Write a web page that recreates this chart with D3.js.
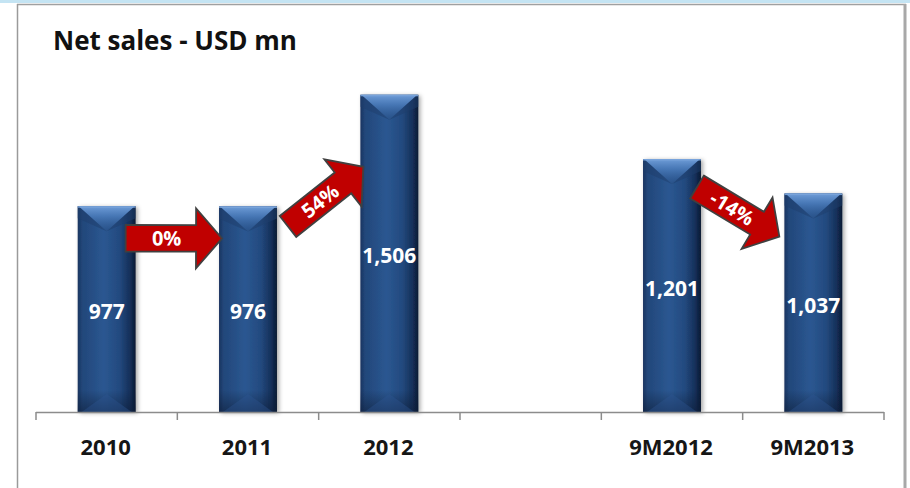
<!DOCTYPE html>
<html><head><meta charset="utf-8">
<script src="https://cdn.jsdelivr.net/npm/d3@7/dist/d3.min.js"></script>
<style>body{margin:0;background:#fff}svg{display:block}</style>
</head><body><svg id="c" width="910" height="488"></svg>
<script>
const categories = ["2010","2011","2012"," ","9M2012","9M2013"];
const values = [977, 976, 1506, null, 1201, 1037];
const arrowFrom = ["2010","2011","9M2012"];
const arrowTo = ["2011","2012","9M2013"];
const arrowLabels = ["0%","54%","-14%"];
const title = "Net sales - USD mn";

const svg = d3.select("#c");
const FONT = "'Open Sans', 'Noto Sans', sans-serif";
const valOf = {}; categories.forEach((c,i)=> valOf[c] = values[i]);

// frame
svg.append("rect").attr("x",0).attr("y",0).attr("width",910).attr("height",3).attr("fill","#c4e4f3");
svg.append("line").attr("x1",17).attr("x2",906).attr("y1",4.5).attr("y2",4.5).attr("stroke","#a0a0a0").attr("stroke-width",1.5);
svg.append("line").attr("x1",17.5).attr("x2",17.5).attr("y1",4).attr("y2",488).attr("stroke","#9a9a9a").attr("stroke-width",1.5);
svg.append("line").attr("x1",905).attr("x2",905).attr("y1",4).attr("y2",488).attr("stroke","#a8a8a8").attr("stroke-width",3);

const defs = svg.append("defs");
const g1 = defs.append("linearGradient").attr("id","barG").attr("x1","0").attr("x2","1").attr("y1","0").attr("y2","0");
[[0,"#1a3460"],[0.08,"#22477a"],[0.45,"#2b5791"],[0.72,"#234a7f"],[0.9,"#15305a"],[1,"#0b1a33"]]
  .forEach(([o,c])=>g1.append("stop").attr("offset",o).attr("stop-color",c));
const g2 = defs.append("linearGradient").attr("id","vG").attr("x1","0").attr("x2","0").attr("y1","0").attr("y2","1");
[[0,"#6f9dd8",1],[0.4,"#4d7fbf",0.85],[1,"#2f5e9b",0.4]]
  .forEach(([o,c,a])=>g2.append("stop").attr("offset",o).attr("stop-color",c).attr("stop-opacity",a));
const g3 = defs.append("linearGradient").attr("id","bG").attr("x1","0").attr("x2","0").attr("y1","0").attr("y2","1");
[[0,"#0d1c36",0],[1,"#0d1c36",0.55]]
  .forEach(([o,c,a])=>g3.append("stop").attr("offset",o).attr("stop-color",c).attr("stop-opacity",a));
const f = defs.append("filter").attr("id","sh").attr("x","-30%").attr("y","-10%").attr("width","160%").attr("height","120%");
f.append("feDropShadow").attr("dx",2).attr("dy",1).attr("stdDeviation",2).attr("flood-color","#000").attr("flood-opacity",0.35);

// scales
const x = d3.scaleBand().domain(categories).range([36,884]).paddingInner(0.59).paddingOuter(0.295);
const y = d3.scaleLinear().domain([0,1600]).range([412,75]);
const bw = x.bandwidth();
const step = x.step();

// title
svg.append("text").attr("x",53).attr("y",50).text(title)
  .attr("font-family",FONT).attr("font-weight",700).attr("font-size",26).attr("fill","#111");

// bars
const data = categories.map((c,i)=>({c, v: values[i]})).filter(d=>d.v!=null);
const bars = svg.append("g").selectAll("g").data(data).join("g");
bars.append("rect").attr("x",d=>x(d.c)).attr("y",d=>y(d.v)).attr("width",bw).attr("height",d=>y(0)-y(d.v))
  .attr("fill","url(#barG)").attr("filter","url(#sh)");
bars.append("path").attr("d",d=>{const x0=x(d.c),t=y(d.v);return `M${x0},${t+12}L${x0+bw/2},${t+25}L${x0+bw},${t+12}L${x0+bw},${t}L${x0},${t}Z`;})
  .attr("fill","#1d3d6c").attr("opacity",0.5);
bars.append("path").attr("d",d=>{const x0=x(d.c),t=y(d.v);return `M${x0+1},${t}L${x0+bw-1},${t}L${x0+bw/2},${t+25}Z`;})
  .attr("fill","url(#vG)");
bars.append("rect").attr("x",d=>x(d.c)).attr("y",d=>y(d.v)).attr("width",bw).attr("height",1.5).attr("fill","#7aa4da").attr("opacity",0.9);
bars.append("rect").attr("x",d=>x(d.c)).attr("y",d=>y(0)-22).attr("width",bw).attr("height",22).attr("fill","url(#bG)");
bars.append("path").attr("d",d=>{const x0=x(d.c),b=y(0);return `M${x0+4},${b}L${x0+bw-4},${b}L${x0+bw/2},${b-18}Z`;})
  .attr("fill","#2c5690").attr("opacity",0.4);
bars.append("text").attr("x",d=>x(d.c)+bw/2).attr("y",d=>(y(d.v)+y(0))/2+10)
  .attr("text-anchor","middle").attr("font-family",FONT).attr("font-weight",700).attr("font-size",21)
  .attr("fill","#fff").text(d=>d3.format(",")(d.v));

// axis
const ax = svg.append("g");
ax.append("line").attr("x1",x.range()[0]).attr("x2",x.range()[1]).attr("y1",412.5).attr("y2",412.5).attr("stroke","#8c8c8c").attr("stroke-width",1.5);
d3.range(categories.length+1).forEach(i=>{
  const tx = x.range()[0] + i*step;
  ax.append("line").attr("x1",tx).attr("x2",tx).attr("y1",412).attr("y2",420).attr("stroke","#8c8c8c").attr("stroke-width",1.5);
});
ax.selectAll("text.lbl").data(categories).join("text").attr("class","lbl")
  .attr("x",c=>x(c)+bw/2-1).attr("y",455).attr("text-anchor","middle")
  .attr("font-family",FONT).attr("font-weight",700).attr("font-size",22).attr("fill","#161616").text(c=>c.trim());

// arrows
const arrowLayout = [
  {tx:-10, ty:32, hx:3, hy:32},
  {tx:11, ty:20, hx:3, hy:72},
  {tx:-4, ty:28, hx:-5, hy:43}
];
arrowLabels.forEach((lab,i)=>{
  const L = arrowLayout[i];
  const a = arrowFrom[i], b = arrowTo[i];
  const tx = x(a)+bw+L.tx, ty = y(valOf[a])+L.ty;
  const hx = x(b)+L.hx, hy = y(valOf[b])+L.hy;
  const len = Math.hypot(hx-tx, hy-ty);
  const ang = Math.atan2(hy-ty, hx-tx)*180/Math.PI;
  const g = svg.append("g").attr("transform",`translate(${tx},${ty}) rotate(${ang})`);
  const sw=13.3, hw=30, hl=26;
  g.append("path").attr("d",`M0,${-sw}L${len-hl},${-sw}L${len-hl},${-hw}L${len},0L${len-hl},${hw}L${len-hl},${sw}L0,${sw}Z`)
    .attr("fill","#c00000").attr("stroke","#404040").attr("stroke-width",1.8).attr("stroke-linejoin","miter");
  g.append("text").attr("x",41).attr("y",0).attr("dy","0.36em").attr("text-anchor","middle")
    .attr("font-family",FONT).attr("font-weight",700).attr("font-size",20).attr("fill","#fff").text(lab);
});
</script></body></html>
